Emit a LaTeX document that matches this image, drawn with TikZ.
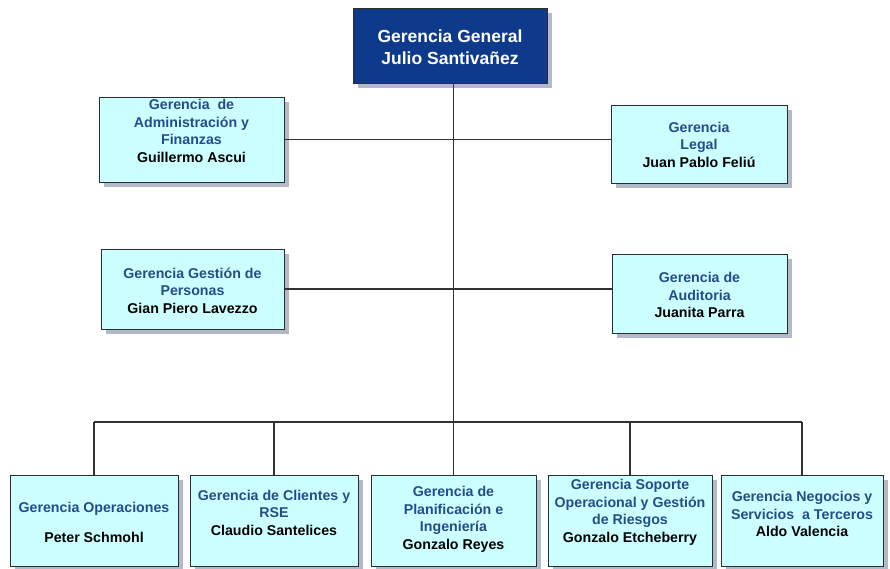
\documentclass[tikz,border=0pt]{standalone}
\usepackage{fontspec}
\setmainfont{Liberation Sans}
\usetikzlibrary{shadows}
\definecolor{darkc}{RGB}{14,58,140}
\definecolor{lightc}{RGB}{204,255,255}
\definecolor{titc}{RGB}{36,76,138}
\definecolor{bordc}{RGB}{45,45,45}
\definecolor{shadc}{RGB}{178,186,202}
\definecolor{linec}{RGB}{50,50,50}
\tikzset{
  box/.style={draw=bordc, line width=0.9pt, fill=lightc, inner sep=0pt, outer sep=0pt,
    drop shadow={shadow xshift=5pt, shadow yshift=-5pt, fill=shadc, opacity=1}},
  topbox/.style={box, fill=darkc},
  txt/.style={font=\bfseries\fontsize{14.2}{17.5}\selectfont, text=titc, align=center, inner sep=0pt},
  toptxt/.style={font=\bfseries\fontsize{17.5}{22}\selectfont, text=white, align=center, inner sep=0pt},
  conn/.style={draw=linec, line width=1.3pt}
}
\newcommand{\nm}[1]{\textcolor{black}{#1}}
\begin{document}
\begin{tikzpicture}[x=1pt,y=-1pt]
\useasboundingbox[fill=white] (0,0) rectangle (890,568);

% boxes
\node[topbox, minimum width=194pt, minimum height=75pt] (gg) at (450,45.5) {};
\node[box, minimum width=185pt, minimum height=85pt] (adm) at (191.5,139.5) {};
\node[box, minimum width=176pt, minimum height=78pt] (leg) at (699,144) {};
\node[box, minimum width=183pt, minimum height=80pt] (per) at (192.5,289) {};
\node[box, minimum width=175pt, minimum height=79pt] (aud) at (699.5,293.5) {};
\node[box, minimum width=168pt, minimum height=91pt] (b1) at (94,520.5) {};
\node[box, minimum width=168pt, minimum height=91pt] (b2) at (274,520.5) {};
\node[box, minimum width=165pt, minimum height=91pt] (b3) at (453.5,520.5) {};
\node[box, minimum width=164pt, minimum height=91pt] (b4) at (630,520.5) {};
\node[box, minimum width=162pt, minimum height=91pt] (b5) at (802,520.5) {};

% trunk coordinates
\coordinate (trunktop) at (b3.north |- gg.south);
\coordinate (busy) at (453.5,422);

% connectors
\draw[conn] (trunktop) -- (busy);
\draw[conn] (adm.east) -- (adm.east -| leg.west);
\draw[conn] (per.east) -- (per.east -| aud.west);
\draw[conn] (b1.north |- busy) -- (b5.north |- busy);
\foreach \b in {b1,b2,b3,b4,b5} {\draw[conn] (\b.north) -- (\b.north |- busy);}

% texts
\node[toptxt] (tgg) at (450,47) {Gerencia General\\Julio Santivañez};
\node[txt] (tadm) at (191.5,131) {Gerencia~~de\\Administración y\\Finanzas\\\nm{Guillermo Ascui}};
\node[txt] (tleg) at (699,144.5) {Gerencia\\Legal\\\nm{Juan Pablo Feliú}};
\node[txt] (tper) at (192.5,290.5) {Gerencia Gestión de\\Personas\\\nm{Gian Piero Lavezzo}};
\node[txt] (taud) at (699.5,295) {Gerencia de\\Auditoria\\\nm{Juanita Parra}};
\node[txt] (tb1) at (94,522) {Gerencia Operaciones\\[12.5pt]\nm{Peter Schmohl}};
\node[txt] (tb2) at (274,512.5) {Gerencia de Clientes y\\RSE\\\nm{Claudio Santelices}};
\node[txt] (tb3) at (453.5,519.5) {Gerencia de\\Planificación e\\Ingeniería\\\nm{Gonzalo Reyes}};
\node[txt] (tb4) at (630,512.5) {Gerencia Soporte\\Operacional y Gestión\\de Riesgos\\\nm{Gonzalo Etcheberry}};
\node[txt] (tb5) at (802,514) {Gerencia Negocios y\\Servicios~~a Terceros\\\nm{Aldo Valencia}};
\end{tikzpicture}
\end{document}
